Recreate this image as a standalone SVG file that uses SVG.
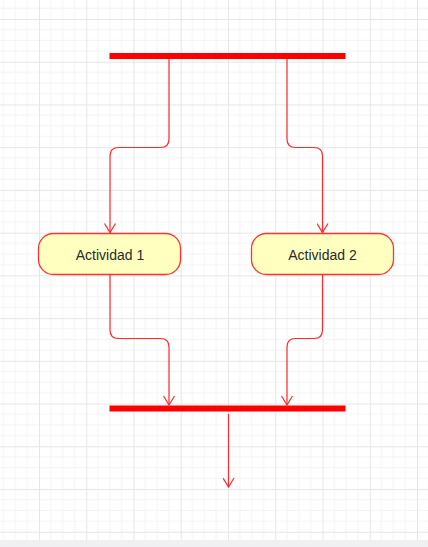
<svg xmlns="http://www.w3.org/2000/svg" width="428" height="547" viewBox="0 0 428 547">
  <defs>
    <pattern id="grid" patternUnits="userSpaceOnUse" x="39" y="19" width="47.25" height="42.73">
      <path d="M11.81 0V42.73M23.62 0V42.73M35.44 0V42.73M0 10.68H47.25M0 21.36H47.25M0 32.05H47.25" stroke="#f3f3f3" stroke-width="1" fill="none"/>
      <path d="M0.5 0V42.73M0 0.5H47.25" stroke="#e6e6e6" stroke-width="1" fill="none"/>
    </pattern>
    <marker id="arrow" viewBox="0 0 12 12" refX="11" refY="6" markerWidth="12" markerHeight="12" markerUnits="userSpaceOnUse" orient="auto">
      <path d="M2 0.5L11 6L2 11.5" fill="none" stroke="#ff2a2a" stroke-width="1.2"/>
    </marker>
    <style>
      .bar { fill: #ff0000; }
      .act { fill: #ffffc0; stroke: #ff3333; stroke-width: 1.3; }
      .lbl { font-family: "Liberation Sans", Arial, sans-serif; font-size: 14px; fill: #2a2a2a; text-anchor: middle; }
      .edge { fill: none; stroke: #ff2a2a; stroke-width: 1.2; }
    </style>
  </defs>
  <rect x="0" y="0" width="428" height="547" fill="#ffffff"/>
  <rect x="0" y="0" width="428" height="540" fill="url(#grid)"/>
  <rect x="0" y="540" width="428" height="7" fill="#f0f0f3"/>

  <g id="fork">
    <rect class="bar" x="109.5" y="53" width="236" height="6"/>
  </g>
  <g id="join">
    <rect class="bar" x="109.5" y="405.5" width="236" height="6"/>
  </g>
  <g id="actividad1">
    <rect class="act" x="38.5" y="233.5" width="142" height="41" rx="15" ry="15"/>
    <text class="lbl" x="110" y="259.5">Actividad 1</text>
  </g>
  <g id="actividad2">
    <rect class="act" x="251.5" y="233.5" width="142" height="41" rx="15" ry="15"/>
    <text class="lbl" x="322.5" y="259.5">Actividad 2</text>
  </g>

  <g id="connectors">
    <path class="edge" marker-end="url(#arrow)" d="M169 59V139Q169 147.5 160.5 147.5H118.5Q110 147.5 110 156V232.5"/>
    <path class="edge" marker-end="url(#arrow)" d="M287 59V139Q287 147.5 295.5 147.5H314Q322.5 147.5 322.5 156V232.5"/>
    <path class="edge" marker-end="url(#arrow)" d="M110 274.5V330Q110 338.5 118.5 338.5H160.5Q169 338.5 169 347V405"/>
    <path class="edge" marker-end="url(#arrow)" d="M322.5 274.5V330Q322.5 338.5 314 338.5H295.5Q287 338.5 287 347V405"/>
    <path class="edge" marker-end="url(#arrow)" d="M228.5 414V487"/>
  </g>
</svg>
